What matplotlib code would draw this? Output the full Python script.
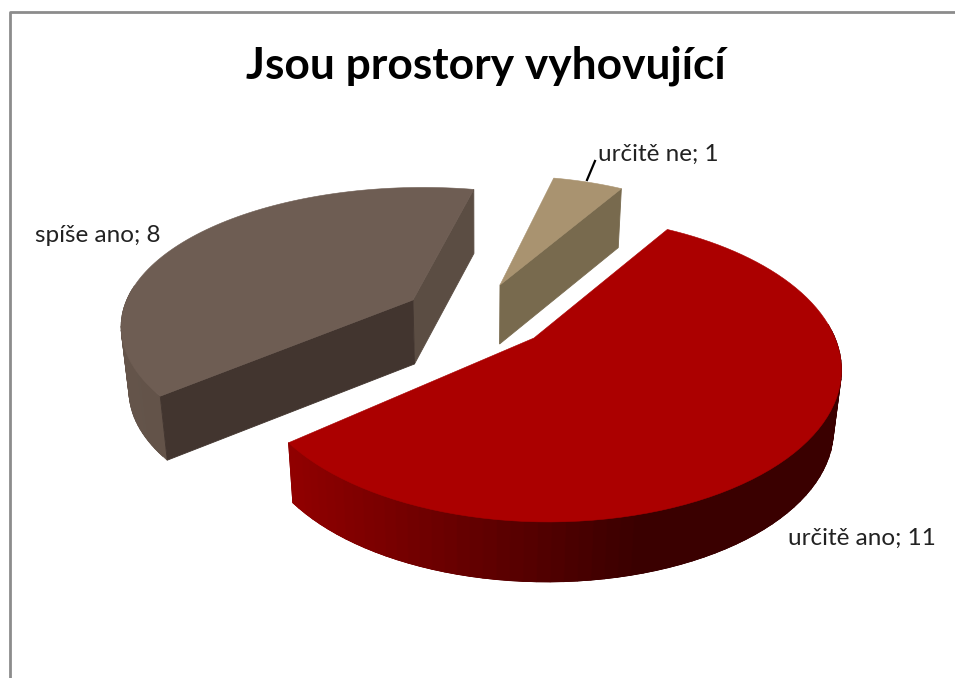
#!/usr/bin/env python3
"""Exploded 3D-look pie: Jsou prostory vyhovujici."""

import matplotlib

matplotlib.use("Agg")
import matplotlib.pyplot as plt
from matplotlib.colors import to_rgb
from matplotlib.patches import Polygon
import numpy as np

plt.rcParams["font.family"] = ["Lato", "DejaVu Sans"]

CATEGORIES = ["určitě ano", "spíše ano", "určitě ne"]
VALUES = [11, 8, 1]
TITLE = "Jsou prostory vyhovující"

TOP_COLORS = ["#ab0000", "#6e5d53", "#a99370"]
RIM_LEFT = ["#920000", "#64544a", "#786a4e"]
RIM_RIGHT = ["#3a0000", "#5c4d43", "#786a4e"]
CUT_COLORS = ["#3a0000", "#42352f", "#786a4e"]
SIDE_COLOR = "#5b4d43"

APEX = [(534, 338), (413, 300), (500, 285)]
RADIUS_X = [1.0, 1.03, 0.91]
RADIUS_Y = [0.98, 0.90, 0.87]
DEPTH = [60.0, 64.0, 59.0]
LABEL_POS = [(788, 538), (35, 235), (598, 154)]

START = 58.0
A, B, K, J = 289.0, 150.0, 0.2, 0.04
VANISH_X = 480.0
SHRINK = 0.022


def project(index, theta):
    u, v = np.cos(theta), np.sin(theta)
    scale = 1 + K * v - J * u
    apex = APEX[index]
    return apex[0] + RADIUS_X[index] * A * u / scale, apex[1] - RADIUS_Y[index] * B * v / scale


def lower(index, x, y):
    return x + (VANISH_X - x) * SHRINK, y + DEPTH[index]


def quad(ax, pts, color, zorder):
    ax.add_patch(Polygon(pts, closed=True, facecolor=color, edgecolor=color, linewidth=0.6, zorder=zorder))


def draw_slice(ax, index, theta_hi, theta_lo):
    apex = APEX[index]
    thetas = np.linspace(theta_hi, theta_lo, 91)
    xs, ys = project(index, thetas)
    left, right = np.array(to_rgb(RIM_LEFT[index])), np.array(to_rgb(RIM_RIGHT[index]))
    lo, hi = xs.min(), xs.max()
    # outer rim, only the part facing the viewer
    order = np.argsort(xs[:-1]) if index != 0 else range(len(thetas) - 1)
    for i in order:
        if np.sin(thetas[i]) > 0.08 and np.sin(thetas[i + 1]) > 0.08:
            continue
        t = (xs[i] - lo) / (hi - lo) if hi > lo else 0
        if index == 0:
            t = min(1.0, t * 1.55)
        color = left + (right - left) * t
        j = min(i + 2, len(thetas) - 1)
        quad(ax, [(xs[i], ys[i]), (xs[j], ys[j]), lower(index, xs[j], ys[j]), lower(index, xs[i], ys[i])], color, 2)
    apex_low = lower(index, *apex)
    # cut faces that look towards the viewer
    if index == 1:
        quad(ax, [apex, (xs[-1], ys[-1]), lower(index, xs[-1], ys[-1]), apex_low], SIDE_COLOR, 3)
        quad(ax, [apex, (xs[0], ys[0]), lower(index, xs[0], ys[0]), apex_low], CUT_COLORS[1], 3)
    if index == 2:
        quad(ax, [apex, (xs[-1], ys[-1]), lower(index, xs[-1], ys[-1]), apex_low], CUT_COLORS[2], 3)
    ax.add_patch(Polygon([apex] + list(zip(xs, ys)), closed=True, facecolor=TOP_COLORS[index],
                         edgecolor=TOP_COLORS[index], linewidth=0.4, zorder=4))


fig = plt.figure(figsize=(9.55, 6.78), dpi=100)
ax = fig.add_axes([0, 0, 1, 1])
ax.set_xlim(0, 955)
ax.set_ylim(678, 0)
ax.axis("off")

# chart frame, clipped by the screenshot on the right and at the bottom
ax.plot([9.5, 9.5, 955], [678, 12, 12], color="#8c8c8c", linewidth=2.0, zorder=1)

angle = np.deg2rad(START)
total = sum(VALUES)
for i, value in enumerate(VALUES):
    sweep = 2 * np.pi * value / total
    draw_slice(ax, i, angle, angle - sweep)
    angle -= sweep

for name, value, pos in zip(CATEGORIES, VALUES, LABEL_POS):
    ax.text(pos[0], pos[1], f"{name}; {value}", fontsize=17.5, color="#222222", va="center", ha="left", zorder=6)

ax.plot([587, 595], [180, 161], color="black", linewidth=1.6, zorder=5)
ax.text(486, 66, TITLE, fontsize=31.9, fontweight="bold", color="black", ha="center", va="center", zorder=6)

fig.savefig("out.png", dpi=100)
